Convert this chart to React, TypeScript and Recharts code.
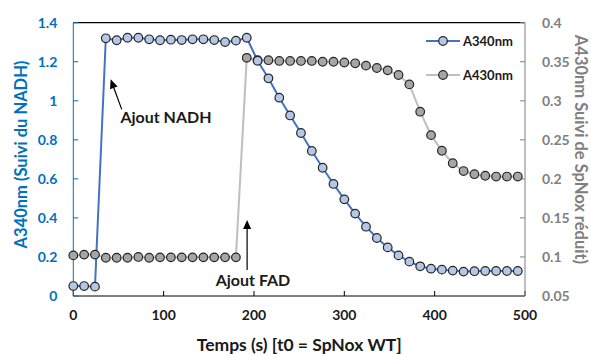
import { ComposedChart, Line, XAxis, YAxis, ReferenceLine, ReferenceDot } from 'recharts';

// Temps (s)
const temps = [0, 12, 24, 36, 48, 60, 72, 84, 96, 108, 120, 132, 144, 156, 168, 180, 192, 204, 216, 228, 240, 252, 264, 276, 288, 300, 312, 324, 336, 348, 360, 372, 384, 396, 408, 420, 432, 444, 456, 468, 480, 492];

const a340 = [0.051, 0.051, 0.048, 1.32, 1.31, 1.323, 1.323, 1.315, 1.31, 1.313, 1.311, 1.315, 1.315, 1.311, 1.301, 1.308, 1.323,
  1.205, 1.115, 1.016, 0.925, 0.835, 0.743, 0.657, 0.574, 0.495, 0.422, 0.355, 0.297, 0.249, 0.208, 0.176, 0.152, 0.14, 0.135, 0.13, 0.125, 0.127, 0.128, 0.128, 0.128, 0.128];

const a430 = [0.102, 0.103, 0.103, 0.099, 0.099, 0.099, 0.1, 0.099, 0.0995, 0.0995, 0.0995, 0.0995, 0.0995, 0.0995, 0.0995, 0.0995,
  0.355, 0.352, 0.352, 0.351, 0.351, 0.351, 0.351, 0.35, 0.35, 0.349, 0.348, 0.345, 0.342, 0.339, 0.333, 0.321, 0.286, 0.256, 0.236, 0.22, 0.21, 0.206, 0.204, 0.203, 0.203, 0.203];

const xTicks = [0, 100, 200, 300, 400, 500];
const leftTicks = [0, 0.2, 0.4, 0.6, 0.8, 1, 1.2, 1.4];
const rightTicks = [0.05, 0.1, 0.15, 0.2, 0.25, 0.3, 0.35, 0.4];

// annotations: arrow tip, arrow tail, text position
const notes = [
  { text: 'Ajout NADH', tip: [41.4, 1.11], tail: [53.6, 0.956], label: [102.6, 0.917] },
  { text: 'Ajout FAD', tip: [192.4, 0.389], tail: [192.4, 0.133], label: [198.9, 0.087] },
];

const legendItems = [
  { name: 'A340nm', line: '#4472C4', fill: '#B4C7E7' },
  { name: 'A430nm', line: '#BFBFBF', fill: '#A6A6A6' },
];

const data = temps.map((t, i) => ({ t, a340: a340[i], a430: a430[i] }));

const FONT = 'Lato, "Open Sans", sans-serif';
const BLUE = '#0070C0';
const GREY = '#808080';

const Arrow = (props: any) => {
  const { x1, y1, x2, y2 } = props;
  // x1,y1 = tail ; x2,y2 = tip
  const ang = Math.atan2(y2 - y1, x2 - x1);
  const L = 9, W = 4;
  const bx = x2 - L * Math.cos(ang), by = y2 - L * Math.sin(ang);
  const px = -Math.sin(ang) * W, py = Math.cos(ang) * W;
  return (
    <g>
      <line x1={x1} y1={y1} x2={bx} y2={by} stroke="#000" strokeWidth={1.2} />
      <polygon points={`${x2},${y2} ${bx + px},${by + py} ${bx - px},${by - py}`} fill="#000" />
    </g>
  );
};

function ChartLegend() {
  return (
    <div style={{ position: 'absolute', left: 426, top: 31, fontFamily: FONT, fontWeight: 700, fontSize: 13, color: '#1a1a1a' }}>
      {legendItems.map((s, i) => (
        <div key={s.name} style={{ display: 'flex', alignItems: 'center', height: 20, marginBottom: i === 0 ? 14 : 0 }}>
          <svg width={34} height={12}>
            <line x1={0} y1={6} x2={34} y2={6} stroke={s.line} strokeWidth={2} />
            <circle cx={17} cy={6} r={4.3} fill={s.fill} stroke="#262626" strokeWidth={1.2} />
          </svg>
          <span style={{ marginLeft: 3 }}>{s.name}</span>
        </div>
      ))}
    </div>
  );
}

export default function App() {
  return (
    <div style={{ position: 'absolute', left: 0, top: 0, width: 591, height: 354, background: '#fff' }}>
      <ComposedChart width={591} height={354} data={data} margin={{ top: 22.7, right: 0, bottom: 0, left: 0 }}>
        <XAxis
          dataKey="t"
          type="number"
          domain={[0, 500]}
          ticks={xTicks}
          stroke="#000"
          tickSize={-5}
          tickMargin={19}
          height={58}
          tick={{ fill: '#1a1a1a', fontFamily: FONT, fontWeight: 700, fontSize: 14 }}
          label={{
            content: ({ viewBox }: any) => (
              <text x={viewBox.x + 226} y={viewBox.y + 55} textAnchor="middle" fontFamily={FONT} fontWeight={700} fontSize={17.5} fill="#1a1a1a">
                Temps (s) [t0 = SpNox WT]
              </text>
            ),
          }}
        />
        <YAxis
          yAxisId="left"
          domain={[0, 1.4]}
          ticks={leftTicks}
          width={73.3}
          stroke={BLUE}
          tickSize={-5}
          tickMargin={21}
          tick={{ fill: BLUE, fontFamily: FONT, fontWeight: 700, fontSize: 14 }}
          label={{
            content: ({ viewBox }: any) => (
              <text
                x={viewBox.x + 21}
                y={154.5}
                transform={`rotate(-90 ${viewBox.x + 21} 154.5)`}
                textAnchor="middle"
                dominantBaseline="central"
                fontFamily={FONT}
                fontWeight={700}
                fontSize={16.5}
                fill={BLUE}
              >
                A340nm (Suivi du NADH)
              </text>
            ),
          }}
        />
        <YAxis
          yAxisId="right"
          orientation="right"
          domain={[0.05, 0.4]}
          ticks={rightTicks}
          width={66}
          stroke={GREY}
          tickSize={-5}
          tickMargin={22}
          tick={{ fill: GREY, fontFamily: FONT, fontWeight: 700, fontSize: 14, textAnchor: 'start' }}
          label={{
            content: ({ viewBox }: any) => (
              <text
                x={viewBox.x + 56}
                y={149.5}
                transform={`rotate(90 ${viewBox.x + 56} 149.5)`}
                textAnchor="middle"
                dominantBaseline="central"
                fontFamily={FONT}
                fontWeight={700}
                fontSize={16.5}
                fill={GREY}
              >
                A430nm Suivi de SpNox réduit)
              </text>
            ),
          }}
        />
        <ReferenceLine yAxisId="left" y={1.4} stroke="#000" strokeWidth={1.3} />
        <Line
          yAxisId="right"
          dataKey="a430"
          name="A430nm"
          stroke="#BFBFBF"
          strokeWidth={2}
          dot={{ r: 4.3, fill: '#A6A6A6', stroke: '#262626', strokeWidth: 1.2 }}
          isAnimationActive={false}
        />
        <Line
          yAxisId="left"
          dataKey="a340"
          name="A340nm"
          stroke="#4472C4"
          strokeWidth={2}
          dot={{ r: 4.3, fill: '#B4C7E7', stroke: '#262626', strokeWidth: 1.2 }}
          isAnimationActive={false}
        />
        {notes.map((n) => (
          <ReferenceLine
            key={n.text}
            yAxisId="left"
            segment={[{ x: n.tail[0], y: n.tail[1] }, { x: n.tip[0], y: n.tip[1] }]}
            shape={Arrow}
          />
        ))}
        {notes.map((n) => (
          <ReferenceDot
            key={n.text + '-t'}
            yAxisId="left"
            x={n.label[0]}
            y={n.label[1]}
            r={0}
            stroke="none"
            fill="none"
            label={{
              content: ({ viewBox }: any) => (
                <text x={viewBox.x + viewBox.width / 2} y={viewBox.y + viewBox.height / 2} textAnchor="middle" dominantBaseline="central" fontFamily={FONT} fontWeight={700} fontSize={16} fill="#1a1a1a">
                  {n.text}
                </text>
              ),
            }}
          />
        ))}
      </ComposedChart>
      <ChartLegend />
    </div>
  );
}
